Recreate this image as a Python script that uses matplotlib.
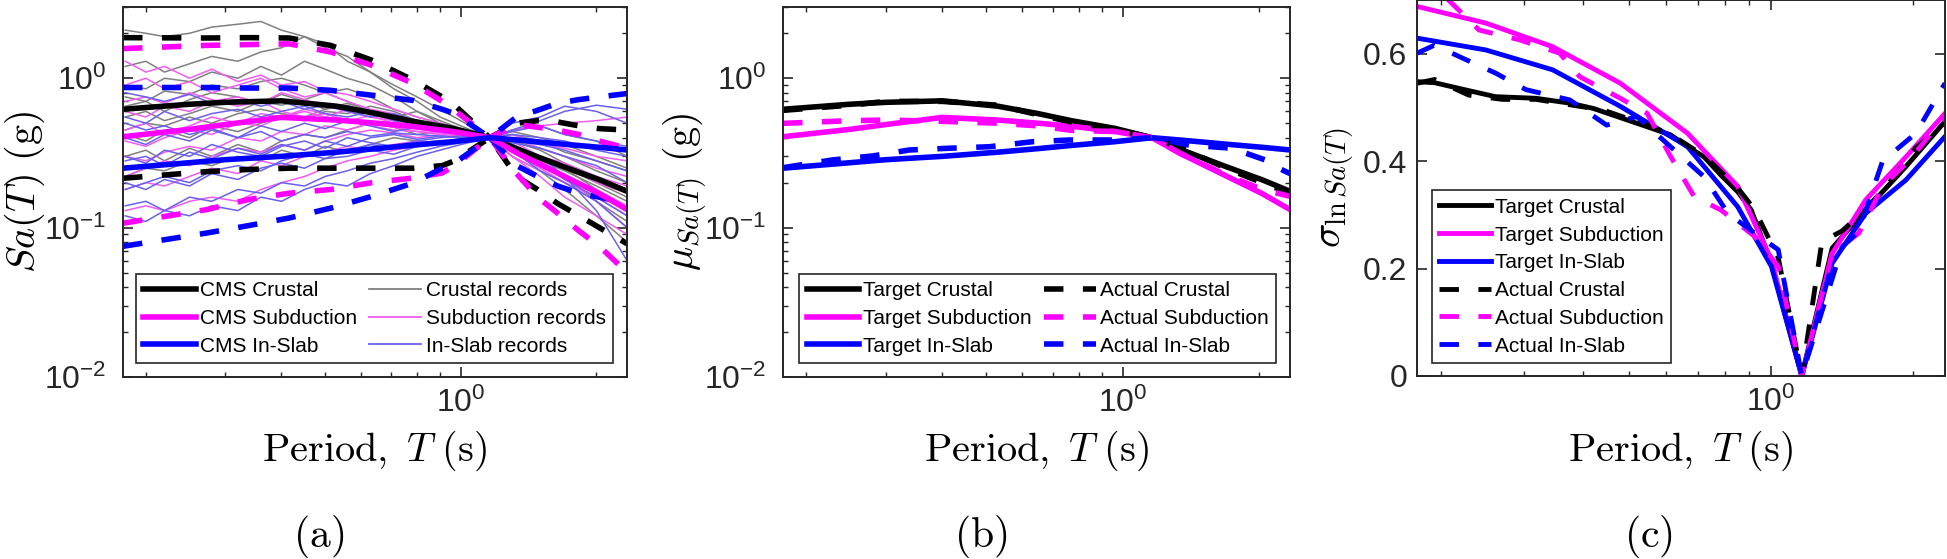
import matplotlib.pyplot as plt
from matplotlib.ticker import NullFormatter, FixedLocator, FuncFormatter

# ---- data ----
# target (CMS) mean spectra, panel (a) and (b)
T_tgt = [0.178, 0.25, 0.30, 0.40, 0.53, 0.65, 0.77, 0.96, 1.16, 1.35, 1.69, 2.03, 2.34]
tgt_crustal = [0.62, 0.67, 0.69, 0.706, 0.65, 0.58, 0.52, 0.462, 0.40, 0.331, 0.256, 0.209, 0.175]
tgt_subduction = [0.406, 0.455, 0.49, 0.547, 0.525, 0.50, 0.478, 0.44, 0.40, 0.31, 0.222, 0.169, 0.132]
tgt_inslab = [0.25, 0.272, 0.285, 0.30, 0.32, 0.338, 0.355, 0.376, 0.40, 0.385, 0.362, 0.345, 0.331]

# actual means of the selected records, panel (b)
act_crustal = [0.61, 0.66, 0.70, 0.70, 0.66, 0.57, 0.51, 0.455, 0.40, 0.34, 0.25, 0.20, 0.17]
act_subduction = [0.499, 0.52, 0.525, 0.515, 0.50, 0.48, 0.448, 0.44, 0.40, 0.31, 0.225, 0.18, 0.162]
T_act_inslab = [0.178, 0.229, 0.281, 0.338, 0.414, 0.508, 0.632, 0.762, 0.949, 1.16, 1.40, 1.74, 2.06, 2.17, 2.34]
act_inslab = [0.252, 0.284, 0.302, 0.331, 0.34, 0.348, 0.376, 0.386, 0.386, 0.40, 0.357, 0.34, 0.284, 0.256, 0.23]

# CMS +/- bounds (dashed), panel (a)
T_bnd = [0.178, 0.273, 0.337, 0.416, 0.514, 0.635, 0.785, 0.909, 0.969, 1.16, 1.33, 1.48, 1.64, 1.83, 2.03, 2.34]
crustal_hi = [1.87, 1.86, 1.87, 1.86, 1.66, 1.32, 0.97, 0.75, 0.66, 0.40, 0.50, 0.52, 0.51, 0.48, 0.46, 0.45]
crustal_lo = [0.214, 0.237, 0.245, 0.25, 0.25, 0.25, 0.25, 0.26, 0.28, 0.40, 0.22, 0.18, 0.145, 0.12, 0.10, 0.078]
subduction_hi = [1.58, 1.66, 1.68, 1.70, 1.50, 1.22, 0.92, 0.70, 0.61, 0.40, 0.49, 0.47, 0.45, 0.42, 0.38, 0.34]
subduction_lo = [0.107, 0.132, 0.154, 0.17, 0.18, 0.20, 0.215, 0.232, 0.26, 0.40, 0.23, 0.16, 0.125, 0.095, 0.075, 0.05]
inslab_hi = [0.867, 0.867, 0.86, 0.86, 0.83, 0.77, 0.71, 0.62, 0.58, 0.40, 0.55, 0.61, 0.68, 0.72, 0.75, 0.79]
inslab_lo = [0.075, 0.092, 0.103, 0.116, 0.135, 0.162, 0.199, 0.25, 0.27, 0.40, 0.26, 0.22, 0.19, 0.17, 0.16, 0.146]

# selected ground motion records, panel (a)
T_rec = [0.18, 0.2, 0.22, 0.25, 0.28, 0.32, 0.36, 0.4, 0.45, 0.5, 0.56, 0.63, 0.71, 0.8, 0.9, 1.0, 1.16, 1.3, 1.5, 1.7, 2.0, 2.34]
crustal_records = [
    [2.1, 2.0, 1.9, 2.0, 2.2, 2.3, 2.4, 2.1, 1.9, 1.6, 1.4, 1.1, 0.9, 0.75, 0.62, 0.52, 0.40, 0.34, 0.28, 0.22, 0.15, 0.11],
    [1.2, 1.3, 1.1, 1.25, 1.4, 1.3, 1.5, 1.6, 1.9, 1.7, 1.3, 1.1, 0.85, 0.7, 0.55, 0.48, 0.40, 0.36, 0.30, 0.25, 0.20, 0.16],
    [0.75, 0.7, 0.82, 0.78, 0.9, 0.85, 0.95, 1.0, 0.9, 0.8, 0.85, 0.75, 0.62, 0.55, 0.5, 0.46, 0.40, 0.38, 0.33, 0.27, 0.22, 0.18],
    [0.55, 0.6, 0.52, 0.58, 0.65, 0.6, 0.7, 0.66, 0.72, 0.8, 0.7, 0.6, 0.55, 0.5, 0.48, 0.44, 0.40, 0.34, 0.28, 0.24, 0.19, 0.15],
    [0.42, 0.38, 0.45, 0.4, 0.48, 0.44, 0.5, 0.55, 0.52, 0.6, 0.58, 0.65, 0.6, 0.52, 0.46, 0.43, 0.40, 0.42, 0.38, 0.32, 0.28, 0.24],
    [0.3, 0.33, 0.28, 0.34, 0.3, 0.36, 0.32, 0.38, 0.42, 0.4, 0.45, 0.5, 0.47, 0.42, 0.44, 0.42, 0.40, 0.38, 0.34, 0.3, 0.24, 0.2],
    [0.22, 0.25, 0.24, 0.28, 0.26, 0.3, 0.28, 0.33, 0.3, 0.35, 0.32, 0.36, 0.4, 0.38, 0.37, 0.39, 0.40, 0.35, 0.3, 0.25, 0.18, 0.13],
    [0.65, 0.7, 0.6, 0.72, 0.8, 0.75, 0.68, 0.78, 0.7, 0.62, 0.66, 0.58, 0.52, 0.46, 0.44, 0.41, 0.40, 0.3, 0.24, 0.18, 0.12, 0.08],
    [0.9, 0.85, 1.0, 0.95, 1.1, 1.0, 1.2, 1.05, 1.3, 1.15, 1.0, 0.9, 0.75, 0.6, 0.5, 0.45, 0.40, 0.44, 0.4, 0.36, 0.3, 0.25],
    [0.45, 0.5, 0.48, 0.55, 0.5, 0.58, 0.62, 0.58, 0.55, 0.62, 0.68, 0.6, 0.55, 0.6, 0.52, 0.46, 0.40, 0.45, 0.48, 0.42, 0.38, 0.3],
]
subduction_records = [
    [1.3, 1.1, 1.2, 1.0, 1.15, 0.95, 1.05, 0.9, 0.95, 0.82, 0.78, 0.7, 0.62, 0.55, 0.5, 0.45, 0.40, 0.32, 0.25, 0.2, 0.16, 0.12],
    [0.9, 1.0, 0.85, 0.95, 0.8, 0.9, 1.0, 0.85, 0.75, 0.8, 0.7, 0.62, 0.58, 0.5, 0.48, 0.44, 0.40, 0.36, 0.3, 0.26, 0.2, 0.17],
    [0.6, 0.55, 0.65, 0.6, 0.7, 0.75, 0.68, 0.8, 0.72, 0.65, 0.6, 0.55, 0.52, 0.48, 0.45, 0.42, 0.40, 0.3, 0.22, 0.16, 0.12, 0.09],
    [0.45, 0.5, 0.42, 0.48, 0.55, 0.5, 0.58, 0.55, 0.62, 0.58, 0.52, 0.56, 0.5, 0.46, 0.44, 0.41, 0.40, 0.42, 0.36, 0.34, 0.3, 0.28],
    [0.3, 0.28, 0.32, 0.35, 0.33, 0.4, 0.38, 0.44, 0.42, 0.48, 0.45, 0.5, 0.47, 0.44, 0.42, 0.4, 0.40, 0.45, 0.48, 0.5, 0.52, 0.55],
    [0.18, 0.2, 0.19, 0.22, 0.25, 0.23, 0.28, 0.26, 0.3, 0.32, 0.35, 0.33, 0.36, 0.38, 0.37, 0.39, 0.40, 0.34, 0.27, 0.22, 0.17, 0.13],
    [0.13, 0.14, 0.13, 0.15, 0.16, 0.15, 0.18, 0.2, 0.22, 0.25, 0.28, 0.3, 0.33, 0.35, 0.37, 0.38, 0.40, 0.3, 0.24, 0.2, 0.15, 0.1],
    [0.7, 0.75, 0.68, 0.8, 0.72, 0.65, 0.7, 0.6, 0.55, 0.58, 0.52, 0.48, 0.45, 0.44, 0.43, 0.42, 0.40, 0.35, 0.28, 0.22, 0.18, 0.14],
    [0.38, 0.35, 0.4, 0.45, 0.42, 0.5, 0.48, 0.55, 0.6, 0.55, 0.62, 0.58, 0.52, 0.48, 0.46, 0.42, 0.40, 0.38, 0.3, 0.27, 0.22, 0.19],
    [0.22, 0.25, 0.28, 0.26, 0.3, 0.34, 0.32, 0.36, 0.33, 0.38, 0.42, 0.45, 0.43, 0.4, 0.42, 0.41, 0.40, 0.4, 0.34, 0.3, 0.25, 0.22],
]
inslab_records = [
    [0.8, 0.75, 0.7, 0.78, 0.68, 0.72, 0.65, 0.7, 0.62, 0.66, 0.6, 0.55, 0.58, 0.52, 0.48, 0.45, 0.40, 0.5, 0.55, 0.65, 0.6, 0.5],
    [0.55, 0.5, 0.6, 0.52, 0.58, 0.62, 0.55, 0.6, 0.65, 0.58, 0.55, 0.6, 0.52, 0.5, 0.46, 0.43, 0.40, 0.44, 0.48, 0.42, 0.38, 0.35],
    [0.4, 0.36, 0.42, 0.38, 0.45, 0.4, 0.48, 0.44, 0.5, 0.46, 0.52, 0.48, 0.44, 0.47, 0.44, 0.42, 0.40, 0.38, 0.36, 0.33, 0.28, 0.24],
    [0.28, 0.3, 0.26, 0.32, 0.29, 0.34, 0.31, 0.36, 0.33, 0.38, 0.35, 0.4, 0.42, 0.39, 0.41, 0.4, 0.40, 0.36, 0.3, 0.26, 0.22, 0.18],
    [0.2, 0.18, 0.21, 0.19, 0.23, 0.21, 0.25, 0.27, 0.25, 0.29, 0.3, 0.33, 0.31, 0.35, 0.37, 0.39, 0.40, 0.42, 0.4, 0.38, 0.33, 0.3],
    [0.14, 0.15, 0.13, 0.16, 0.15, 0.18, 0.17, 0.2, 0.19, 0.22, 0.24, 0.27, 0.29, 0.32, 0.35, 0.37, 0.40, 0.33, 0.27, 0.21, 0.16, 0.12],
    [0.12, 0.11, 0.13, 0.12, 0.14, 0.13, 0.16, 0.15, 0.18, 0.2, 0.19, 0.23, 0.26, 0.3, 0.33, 0.36, 0.40, 0.36, 0.3, 0.22, 0.13, 0.06],
    [0.3, 0.27, 0.33, 0.3, 0.36, 0.32, 0.3, 0.35, 0.38, 0.34, 0.4, 0.37, 0.35, 0.38, 0.4, 0.41, 0.40, 0.45, 0.52, 0.6, 0.66, 0.62],
    [0.18, 0.2, 0.22, 0.2, 0.24, 0.26, 0.24, 0.28, 0.31, 0.29, 0.33, 0.36, 0.34, 0.37, 0.38, 0.39, 0.40, 0.37, 0.34, 0.3, 0.26, 0.2],
    [0.5, 0.45, 0.48, 0.42, 0.46, 0.4, 0.44, 0.38, 0.42, 0.4, 0.44, 0.41, 0.43, 0.42, 0.41, 0.4, 0.40, 0.33, 0.24, 0.2, 0.15, 0.1],
]

# standard deviations, panel (c)
T_sig = [0.178, 0.249, 0.345, 0.48, 0.666, 0.851, 1.003, 1.163, 1.349, 1.589, 1.934, 2.34]
sig_tgt_subduction = [0.688, 0.657, 0.613, 0.545, 0.452, 0.353, 0.216, 0.0, 0.228, 0.328, 0.408, 0.489]
sig_tgt_inslab = [0.629, 0.607, 0.570, 0.502, 0.427, 0.315, 0.204, 0.0, 0.210, 0.303, 0.365, 0.446]
T_sig_c = [0.178, 0.194, 0.222, 0.261, 0.318, 0.375, 0.421, 0.495, 0.547, 0.613, 0.666, 0.722,
           0.784, 0.851, 0.909, 1.003, 1.163, 1.349, 1.589, 1.934, 2.34]
sig_tgt_crustal = [0.548, 0.546, 0.534, 0.520, 0.517, 0.508, 0.498, 0.477, 0.464, 0.449, 0.427, 0.408,
                   0.374, 0.343, 0.309, 0.21, 0.0, 0.238, 0.309, 0.39, 0.474]
T_sig_ac = [0.178, 0.194, 0.229, 0.270, 0.318, 0.375, 0.442, 0.495, 0.520, 0.613, 0.722, 0.851,
            0.924, 1.037, 1.163, 1.283, 1.416, 1.589, 1.782, 2.03, 2.34]
sig_act_crustal = [0.545, 0.552, 0.523, 0.515, 0.515, 0.505, 0.495, 0.48, 0.475, 0.45, 0.41, 0.35,
                   0.31, 0.22, 0.0, 0.25, 0.27, 0.31, 0.36, 0.425, 0.47]
T_sig_as = [0.178, 0.2075, 0.241, 0.293, 0.357, 0.394, 0.48, 0.547, 0.613, 0.688, 0.784, 0.924,
            1.037, 1.163, 1.349, 1.537, 1.725, 1.966, 2.34]
sig_act_subduction = [0.76, 0.70, 0.644, 0.626, 0.601, 0.557, 0.517, 0.489, 0.409, 0.334, 0.309, 0.26,
                      0.204, 0.0, 0.228, 0.266, 0.353, 0.402, 0.483]
T_sig_ai = [0.178, 0.194, 0.222, 0.261, 0.303, 0.375, 0.449, 0.520, 0.613, 0.722, 0.811, 0.924,
            1.037, 1.163, 1.416, 1.537, 1.725, 2.03, 2.34]
sig_act_inslab = [0.601, 0.616, 0.592, 0.564, 0.533, 0.514, 0.467, 0.483, 0.427, 0.371, 0.303, 0.266,
                  0.235, 0.0, 0.24, 0.27, 0.40, 0.452, 0.545]

# ---- style ----
plt.rcParams['font.family'] = ['Liberation Sans', 'DejaVu Sans']
plt.rcParams['mathtext.fontset'] = 'cm'
plt.rcParams['lines.scale_dashes'] = False
plt.rcParams['axes.edgecolor'] = '#262626'
plt.rcParams['axes.linewidth'] = 1.4

BLACK, MAGENTA, BLUE = '#000000', '#ff00ff', '#0000ff'
GREY_REC, MAG_REC, BLUE_REC = '#808080', '#f25cf2', '#6a60ec'
DASH = (0, (14, 14))
XLIM = (0.178, 2.34)

fig = plt.figure(figsize=(19.47, 5.59), dpi=100)
ax_a = fig.add_axes([0.0632, 0.3256, 0.2589, 0.6619])
ax_b = fig.add_axes([0.4022, 0.3256, 0.2604, 0.6619])
ax_c = fig.add_axes([0.7278, 0.3274, 0.2712, 0.6726])


def style_axes(ax, ypad):
    ax.set_xscale('log')
    ax.set_xlim(*XLIM)
    ax.xaxis.set_minor_formatter(NullFormatter())
    ax.tick_params(which='both', direction='in', top=True, right=True,
                   colors='#262626', labelsize=23)
    ax.tick_params(which='major', length=7, width=1.2)
    ax.tick_params(which='minor', length=3.5, width=1.0)
    ax.tick_params(axis='x', pad=8)
    ax.tick_params(axis='y', pad=ypad)
    ax.set_xlabel(r'$\mathrm{Period,}\ T\ \mathrm{(s)}$', fontsize=29, va='center')
    ax.xaxis.set_label_coords(0.5, -0.2)


def add_legend(ax, handles, ncol, x0, y0):
    leg = ax.legend(handles=handles, ncol=ncol, loc='lower left', bbox_to_anchor=(x0, y0),
                    borderaxespad=0, fontsize=15, handlelength=2.5, handletextpad=0.2,
                    columnspacing=0.6, labelspacing=0.42, borderpad=0.35,
                    fancybox=False, framealpha=1)
    leg.get_frame().set_edgecolor('#262626')
    leg.get_frame().set_linewidth(1.2)


# ---- (a) spectra ----
for rec in crustal_records:
    ax_a.plot(T_rec, rec, color=GREY_REC, lw=1.1)
for rec in subduction_records:
    ax_a.plot(T_rec, rec, color=MAG_REC, lw=1.1)
for rec in inslab_records:
    ax_a.plot(T_rec, rec, color=BLUE_REC, lw=1.1)
ax_a.plot(T_bnd, crustal_hi, color=BLACK, lw=4, ls=DASH)
ax_a.plot(T_bnd, crustal_lo, color=BLACK, lw=4, ls=DASH)
ax_a.plot(T_bnd, subduction_hi, color=MAGENTA, lw=4, ls=DASH)
ax_a.plot(T_bnd, subduction_lo, color=MAGENTA, lw=4, ls=DASH)
ax_a.plot(T_bnd, inslab_hi, color=BLUE, lw=4, ls=DASH)
ax_a.plot(T_bnd, inslab_lo, color=BLUE, lw=4, ls=DASH)
h1, = ax_a.plot(T_tgt, tgt_crustal, color=BLACK, lw=4, label='CMS Crustal')
h2, = ax_a.plot(T_tgt, tgt_subduction, color=MAGENTA, lw=4, label='CMS Subduction')
h3, = ax_a.plot(T_tgt, tgt_inslab, color=BLUE, lw=4, label='CMS In-Slab')
r1, = ax_a.plot([], [], color=GREY_REC, lw=1.3, label='Crustal records')
r2, = ax_a.plot([], [], color=MAG_REC, lw=1.3, label='Subduction records')
r3, = ax_a.plot([], [], color=BLUE_REC, lw=1.3, label='In-Slab records')
style_axes(ax_a, 12)
ax_a.set_yscale('log')
ax_a.set_ylim(0.01, 3)
ax_a.yaxis.set_minor_formatter(NullFormatter())
ax_a.set_ylabel(r'$Sa(T)\ \mathrm{(g)}$', fontsize=29, va='center')
ax_a.yaxis.set_label_coords(-0.194, 0.5)
add_legend(ax_a, [h1, h2, h3, r1, r2, r3], 2, 0.026, 0.038)

# ---- (b) means ----
b1, = ax_b.plot(T_tgt, tgt_crustal, color=BLACK, lw=4, label='Target Crustal')
b2, = ax_b.plot(T_tgt, tgt_subduction, color=MAGENTA, lw=4, label='Target Subduction')
b3, = ax_b.plot(T_tgt, tgt_inslab, color=BLUE, lw=4, label='Target In-Slab')
b4, = ax_b.plot(T_tgt, act_crustal, color=BLACK, lw=4, ls=DASH, label='Actual Crustal')
b5, = ax_b.plot(T_tgt, act_subduction, color=MAGENTA, lw=4, ls=DASH, label='Actual Subduction')
b6, = ax_b.plot(T_act_inslab, act_inslab, color=BLUE, lw=4, ls=DASH, label='Actual In-Slab')
style_axes(ax_b, 12)
ax_b.set_yscale('log')
ax_b.set_ylim(0.01, 3)
ax_b.yaxis.set_minor_formatter(NullFormatter())
ax_b.set_ylabel(r'$\mu_{Sa(T)}\ \mathrm{(g)}$', fontsize=29, va='center')
ax_b.yaxis.set_label_coords(-0.193, 0.5)
add_legend(ax_b, [b1, b2, b3, b4, b5, b6], 2, 0.032, 0.038)

# ---- (c) standard deviations ----
c1, = ax_c.plot(T_sig_c, sig_tgt_crustal, color=BLACK, lw=3.5, label='Target Crustal')
c2, = ax_c.plot(T_sig, sig_tgt_subduction, color=MAGENTA, lw=3.5, label='Target Subduction')
c3, = ax_c.plot(T_sig, sig_tgt_inslab, color=BLUE, lw=3.5, label='Target In-Slab')
c4, = ax_c.plot(T_sig_ac, sig_act_crustal, color=BLACK, lw=3.5, ls=DASH, label='Actual Crustal')
c5, = ax_c.plot(T_sig_as, sig_act_subduction, color=MAGENTA, lw=3.5, ls=DASH, label='Actual Subduction')
c6, = ax_c.plot(T_sig_ai, sig_act_inslab, color=BLUE, lw=3.5, ls=DASH, label='Actual In-Slab')
style_axes(ax_c, 7)
ax_c.set_ylim(0, 0.7)
ax_c.yaxis.set_major_locator(FixedLocator([0, 0.2, 0.4, 0.6]))
ax_c.yaxis.set_major_formatter(FuncFormatter(lambda v, p: '%g' % v))
ax_c.tick_params(axis='y', which='minor', left=False, right=False)
ax_c.set_ylabel(r'$\sigma_{\ln Sa(T)}$', fontsize=29, va='center')
ax_c.yaxis.set_label_coords(-0.152, 0.5)
add_legend(ax_c, [c1, c2, c3, c4, c5, c6], 1, 0.028, 0.035)

# sub-figure captions
fig.text(319 / 1947, 1 - 537 / 559, r'$\mathrm{(a)}$', fontsize=30, ha='center', va='center')
fig.text(981 / 1947, 1 - 537 / 559, r'$\mathrm{(b)}$', fontsize=30, ha='center', va='center')
fig.text(1648 / 1947, 1 - 537 / 559, r'$\mathrm{(c)}$', fontsize=30, ha='center', va='center')

fig.savefig('out.png', dpi=100)
